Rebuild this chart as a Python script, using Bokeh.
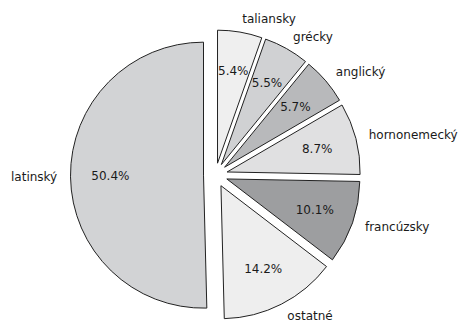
import numpy as np
from bokeh.plotting import figure
from bokeh.models import ColumnDataSource, Range1d
from bokeh.core.properties import value
from bokeh.embed import file_html
from bokeh.resources import INLINE

# Share of loanwords by language of origin (percent)
languages = ["latinský", "ostatné", "francúzsky", "hornonemecký", "anglický", "grécky", "taliansky"]
shares = [50.4, 14.2, 10.1, 8.7, 5.7, 5.5, 5.4]
pct_labels = ["50.4%", "14.2%", "10.1%", "8.7%", "5.7%", "5.5%", "5.4%"]

# Slice fills
fills = ["#d2d3d5", "#eeeeee", "#9d9ea0", "#e0e0e1", "#b8b9bb", "#d0d1d3", "#efefef"]

W, H = 461, 323
cx, cy = 215.0, 148.5       # pie centre in pixel-sized data units (y up)
radius = 133.0
explode = 12.0              # radial offset of every slice
label_dist = 1.1
pct_dist = 0.7

vals = np.array(shares, dtype=float)
fracs = vals / vals.sum()
start = np.pi / 2 + 2 * np.pi * np.concatenate([[0], np.cumsum(fracs)[:-1]])
end = start + 2 * np.pi * fracs
mid = (start + end) / 2

ox = cx + explode * np.cos(mid)
oy = cy + explode * np.sin(mid)

src = ColumnDataSource(dict(
    x=ox, y=oy, start=start, end=end, fill=fills,
    lx=ox + label_dist * radius * np.cos(mid),
    ly=oy + label_dist * radius * np.sin(mid),
    align=["left" if np.cos(m) > 0 else "right" for m in mid],
    px=ox + pct_dist * radius * np.cos(mid),
    py=oy + pct_dist * radius * np.sin(mid),
    name=languages, pct=pct_labels,
))

p = figure(width=W, height=H, output_backend="svg", toolbar_location=None,
           x_range=Range1d(0, W), y_range=Range1d(0, H), min_border=0,
           background_fill_color="white", border_fill_color="white")
p.axis.visible = False
p.grid.visible = False
p.outline_line_color = None

p.wedge(x="x", y="y", radius=radius, start_angle="start", end_angle="end",
        direction="anticlock", fill_color="fill", line_color="#222222",
        line_width=1, source=src)

p.text(x="lx", y="ly", text="name", text_align="align", text_baseline="middle",
       text_font=value("DejaVu Sans"), text_font_size="12px", text_color="#1a1a1a",
       source=src)
p.text(x="px", y="py", text="pct", text_align="center", text_baseline="middle",
       text_font=value("DejaVu Sans"), text_font_size="12px", text_color="#1a1a1a",
       source=src)

open("out.html", "w").write(file_html(p, INLINE))
